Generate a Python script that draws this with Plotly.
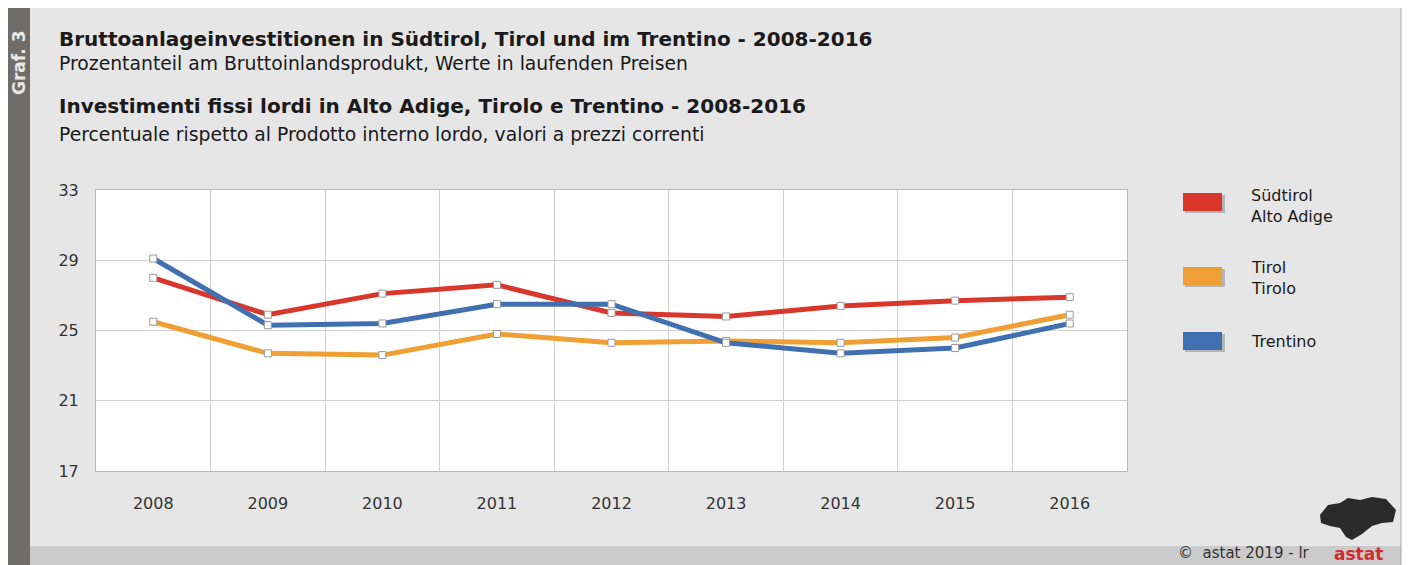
import plotly.graph_objects as go

years = ["2008", "2009", "2010", "2011", "2012", "2013", "2014", "2015", "2016"]
suedtirol = [28.0, 25.9, 27.1, 27.6, 26.0, 25.8, 26.4, 26.7, 26.9]
tirol = [25.5, 23.7, 23.6, 24.8, 24.3, 24.4, 24.3, 24.6, 25.9]
trentino = [29.1, 25.3, 25.4, 26.5, 26.5, 24.3, 23.7, 24.0, 25.4]
y_ticks = [17, 21, 25, 29, 33]

series = [
    ("Südtirol<br>Alto Adige", suedtirol, "#d9372c"),
    ("Tirol<br>Tirolo", tirol, "#ef9f33"),
    ("Trentino", trentino, "#4170b0"),
]

FONT = "DejaVu Sans, Liberation Sans, Arial, sans-serif"
OFF = 8  # page body margin
W, H = 1410 - OFF, 565 - OFF
# plot area in reference pixels
RL, RR, RT, RB = 96, 1127, 190, 471
L, R, T, B = RL - OFF, RR - OFF, RT - OFF, RB - OFF

fig = go.Figure()
xs = list(range(len(years)))
for name, vals, col in series:
    fig.add_trace(go.Scatter(
        x=xs, y=vals, name=name, mode="lines+markers",
        line=dict(color=col, width=5),
        marker=dict(symbol="square", size=7, color="white",
                    line=dict(color="#9a9a9a", width=1)),
        showlegend=False,
    ))

def px(x):
    return (x - RL) / (RR - RL)

def py(y):
    return (RB - y) / (RB - RT)

shapes = []
# left dark bar
shapes.append(dict(type="rect", xref="paper", yref="paper", layer="below",
                   x0=px(0), x1=px(30), y0=py(570), y1=py(6),
                   fillcolor="#6f6d69", line=dict(width=0)))
# white right margin
shapes.append(dict(type="rect", xref="paper", yref="paper", layer="below",
                   x0=px(1401), x1=px(1415), y0=py(570), y1=py(0),
                   fillcolor="#ffffff", line=dict(width=0)))
# bottom strip
shapes.append(dict(type="rect", xref="paper", yref="paper", layer="below",
                   x0=px(30), x1=px(1401), y0=py(570), y1=py(546),
                   fillcolor="#cbcbcb", line=dict(width=0)))
# right border line
shapes.append(dict(type="line", xref="paper", yref="paper", layer="below",
                   x0=px(1401), x1=px(1401), y0=py(570), y1=py(6),
                   line=dict(color="#a8a8a8", width=1)))
# legend swatches with soft shadow
sw_y = [(193, 211), (267, 285), (332, 350)]
for (y0, y1), (_, _, col) in zip(sw_y, series):
    shapes.append(dict(type="rect", xref="paper", yref="paper",
                       x0=px(1185), x1=px(1225), y0=py(y1 + 2), y1=py(y0 + 2),
                       fillcolor="#8a8a8a", line=dict(width=0), opacity=0.55))
    shapes.append(dict(type="rect", xref="paper", yref="paper",
                       x0=px(1183), x1=px(1222), y0=py(y1), y1=py(y0),
                       fillcolor=col, line=dict(width=0)))

# rough astat map logo silhouette
logo_pts = [(1320, 515), (1328, 505), (1340, 503), (1348, 498), (1360, 500), (1372, 497),
            (1386, 499), (1396, 510), (1393, 522), (1382, 523), (1372, 526), (1362, 534),
            (1352, 540), (1346, 537), (1340, 528), (1330, 526), (1321, 523)]
path = "M " + " L ".join(f"{px(x)},{py(y)}" for x, y in logo_pts) + " Z"
shapes.append(dict(type="path", xref="paper", yref="paper", path=path,
                   fillcolor="#2a2a2a", line=dict(width=0)))

annotations = []
def txt(x, y, s, size, bold=False, color="#1a1a1a", xanchor="left", yanchor="middle", angle=0):
    annotations.append(dict(
        xref="paper", yref="paper", x=px(x), y=py(y), text=(f"<b>{s}</b>" if bold else s),
        showarrow=False, xanchor=xanchor, yanchor=yanchor, textangle=angle,
        font=dict(family=FONT, size=size, color=color), align="left"))

txt(57, 39, "Bruttoanlageinvestitionen in Südtirol, Tirol und im Trentino - 2008-2016", 20, bold=True)
txt(57, 64, "Prozentanteil am Bruttoinlandsprodukt, Werte in laufenden Preisen", 18.8)
txt(57, 106, "Investimenti fissi lordi in Alto Adige, Tirolo e Trentino - 2008-2016", 20, bold=True)
txt(57, 134, "Percentuale rispetto al Prodotto interno lordo, valori a prezzi correnti", 18.8)
txt(19, 63, "Graf. 3", 17, bold=True, color="#e8e8e8", xanchor="center", angle=-90)

legend_text = [(206, "Südtirol<br>Alto Adige"), (278, "Tirol<br>Tirolo"), (341, "Trentino")]
for y, s in legend_text:
    txt(1249, y, s, 16)

txt(1176, 553, "©  astat 2019 - lr", 15, color="#333333")
txt(1332, 554, "astat", 17, bold=True, color="#d22b2b")

fig.update_layout(
    width=W, height=H,
    margin=dict(l=L, r=W - R, t=T, b=H - B, pad=0),
    paper_bgcolor="#e6e6e6",
    plot_bgcolor="#ffffff",
    shapes=shapes,
    annotations=annotations,
    font=dict(family=FONT, size=16, color="#333333"),
    xaxis=dict(
        range=[-0.5, len(years) - 0.5], tickmode="array", tickvals=xs, ticktext=years,
        showgrid=False, zeroline=False, ticks="outside", ticklen=18,
        tickcolor="rgba(0,0,0,0)", tickfont=dict(size=16, color="#333333"),
        showline=True, linecolor="#b8b8b8", mirror=True, linewidth=1,
        minor=dict(tickmode="array", tickvals=[i + 0.5 for i in xs[:-1]],
                   showgrid=True, gridcolor="#d0d0d0", gridwidth=1, ticks=""),
        fixedrange=True,
    ),
    yaxis=dict(
        range=[17, 33], tickmode="array", tickvals=y_ticks,
        showgrid=True, gridcolor="#d0d0d0", gridwidth=1, zeroline=False,
        ticks="outside", ticklen=13, tickcolor="rgba(0,0,0,0)",
        tickfont=dict(size=16, color="#333333"),
        showline=True, linecolor="#b8b8b8", mirror=True, linewidth=1,
        fixedrange=True,
    ),
)

fig.write_html("out.html")
